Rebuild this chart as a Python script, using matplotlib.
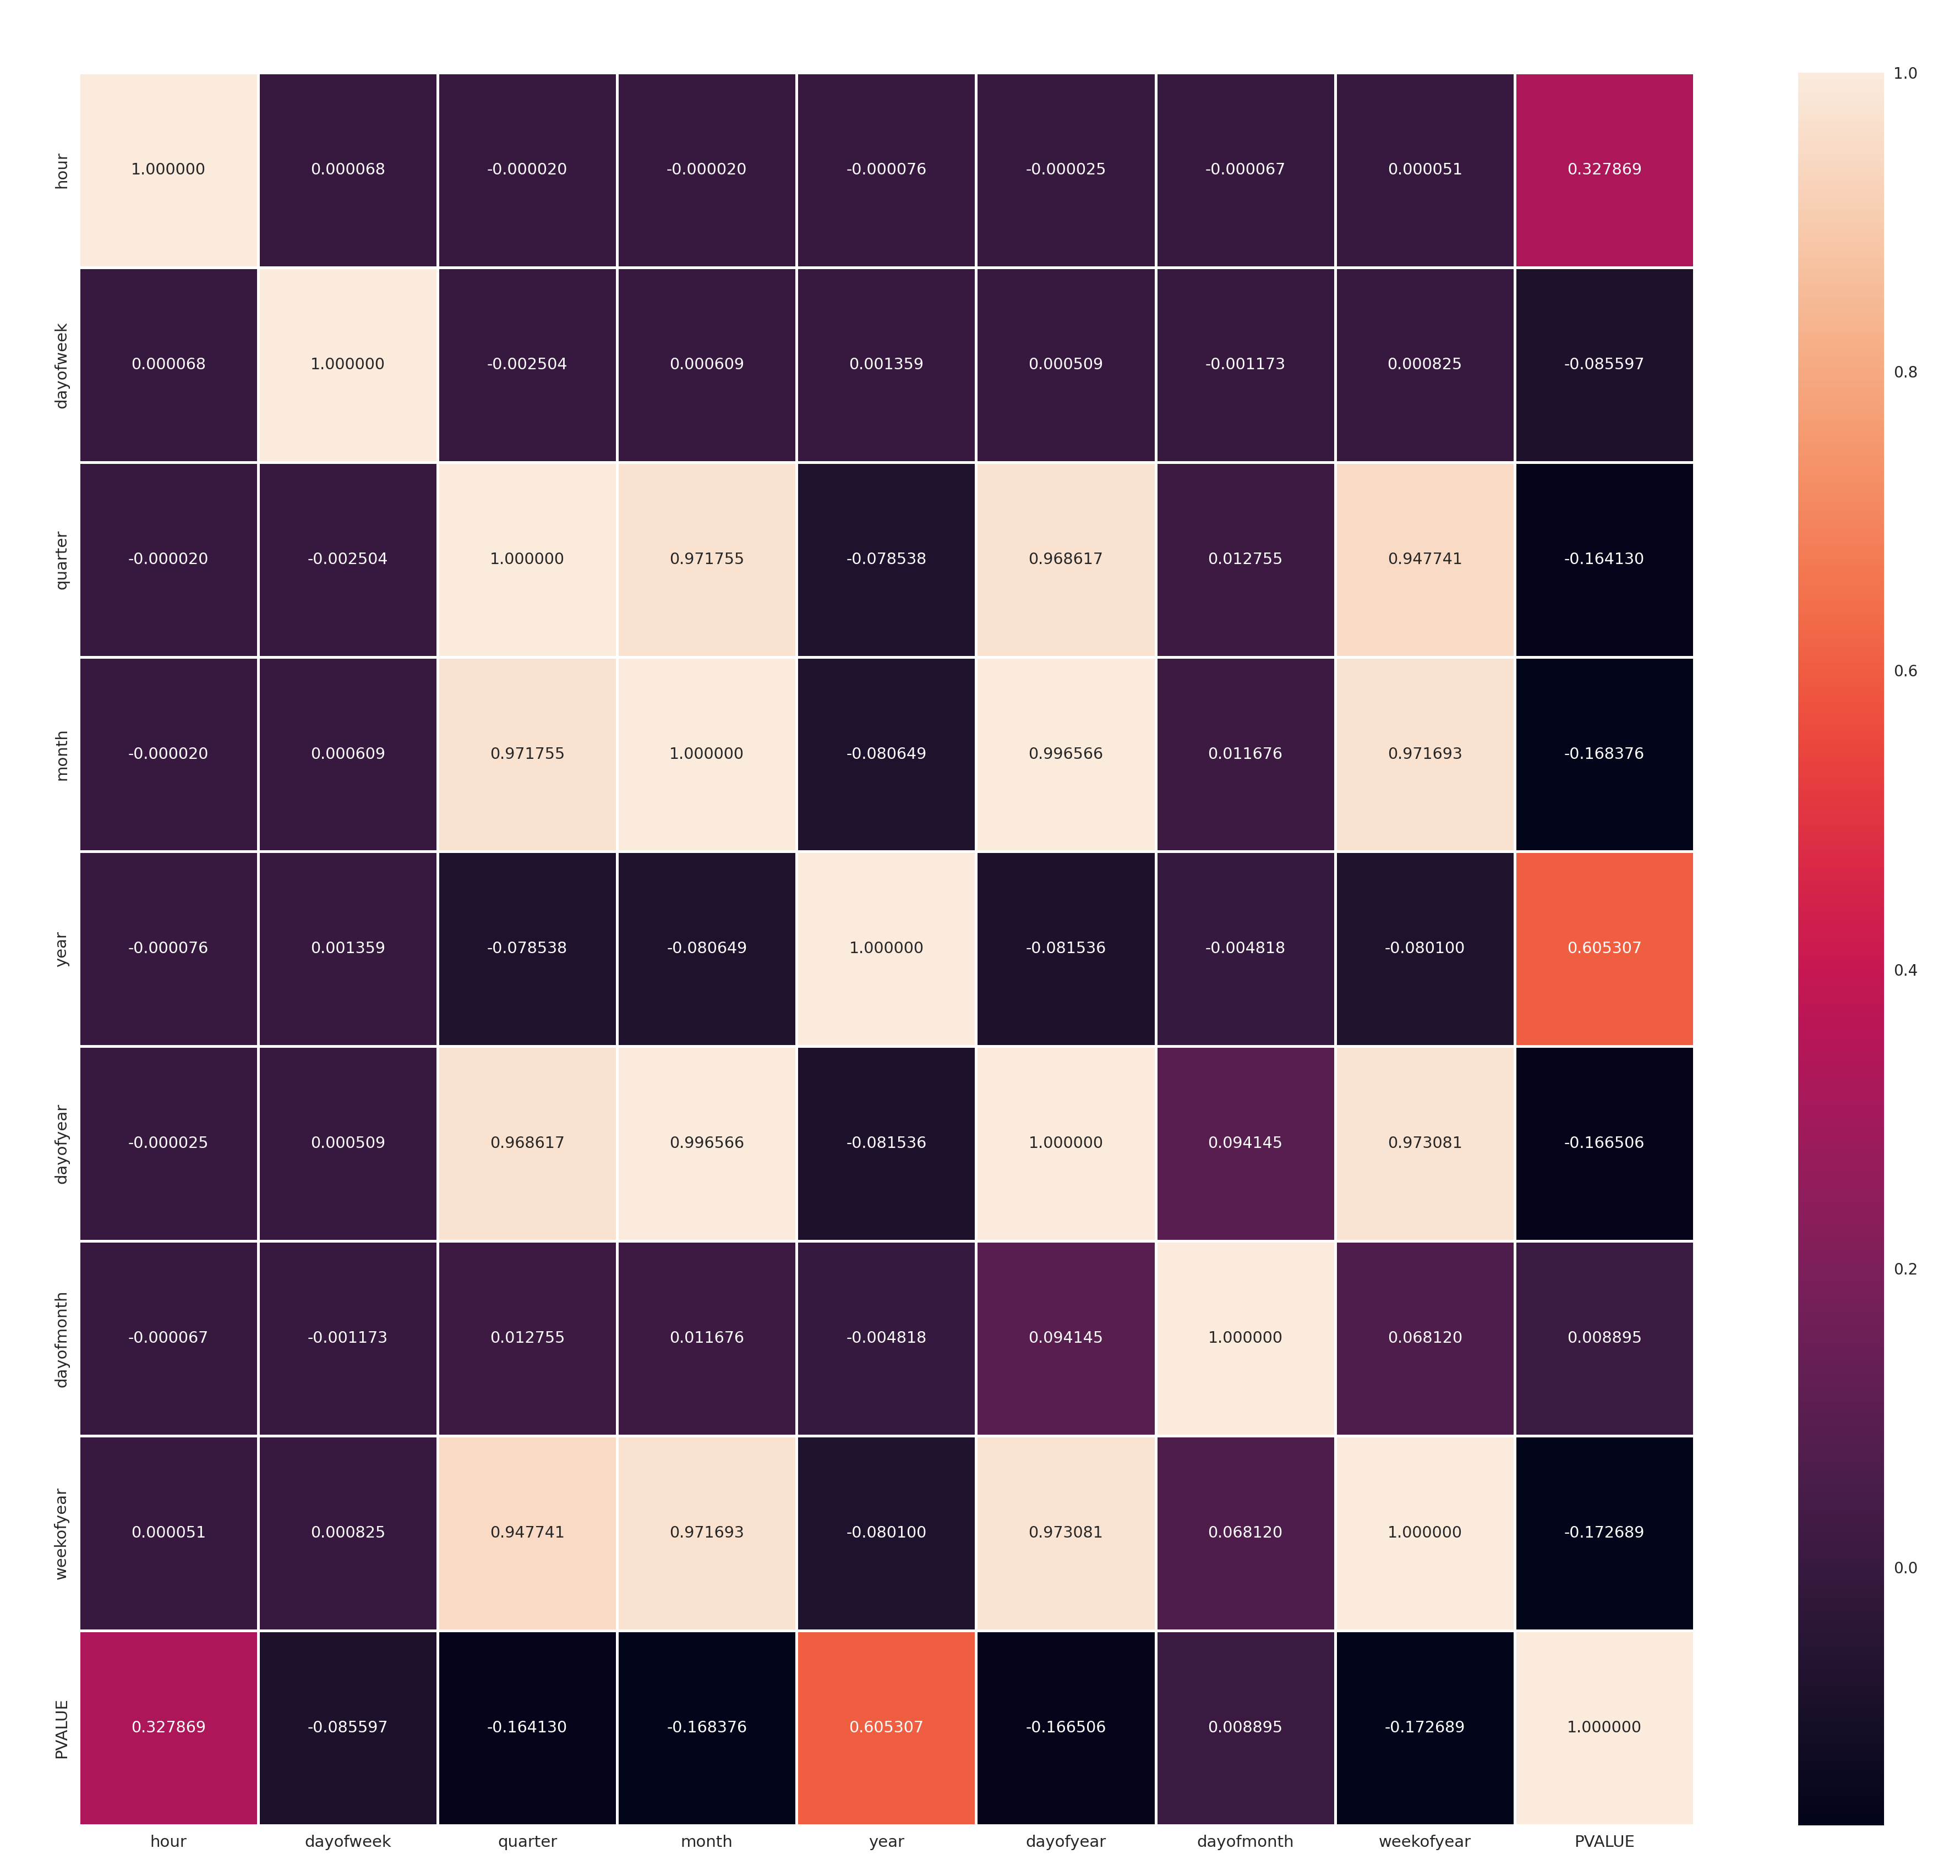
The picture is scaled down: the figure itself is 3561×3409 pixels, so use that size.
import numpy as np
import pandas as pd
import matplotlib
matplotlib.use("Agg")
import matplotlib.pyplot as plt
import seaborn as sns

labels = ["hour", "dayofweek", "quarter", "month", "year",
          "dayofyear", "dayofmonth", "weekofyear", "PVALUE"]

row_hour = [1.000000, 0.000068, -0.000020, -0.000020, -0.000076, -0.000025, -0.000067, 0.000051, 0.327869]
row_dayofweek = [0.000068, 1.000000, -0.002504, 0.000609, 0.001359, 0.000509, -0.001173, 0.000825, -0.085597]
row_quarter = [-0.000020, -0.002504, 1.000000, 0.971755, -0.078538, 0.968617, 0.012755, 0.947741, -0.164130]
row_month = [-0.000020, 0.000609, 0.971755, 1.000000, -0.080649, 0.996566, 0.011676, 0.971693, -0.168376]
row_year = [-0.000076, 0.001359, -0.078538, -0.080649, 1.000000, -0.081536, -0.004818, -0.080100, 0.605307]
row_dayofyear = [-0.000025, 0.000509, 0.968617, 0.996566, -0.081536, 1.000000, 0.094145, 0.973081, -0.166506]
row_dayofmonth = [-0.000067, -0.001173, 0.012755, 0.011676, -0.004818, 0.094145, 1.000000, 0.068120, 0.008895]
row_weekofyear = [0.000051, 0.000825, 0.947741, 0.971693, -0.080100, 0.973081, 0.068120, 1.000000, -0.172689]
row_pvalue = [0.327869, -0.085597, -0.164130, -0.168376, 0.605307, -0.166506, 0.008895, -0.172689, 1.000000]

corr = pd.DataFrame([row_hour, row_dayofweek, row_quarter, row_month, row_year,
                     row_dayofyear, row_dayofmonth, row_weekofyear, row_pvalue],
                    index=labels, columns=labels)

sns.set_style("darkgrid")
plt.rcParams['font.family'] = ['DejaVu Sans']

fig = plt.figure(figsize=(35.62, 34.09), dpi=100)
ax = fig.add_axes([0.0401, 0.0270, 0.8240, 0.9343])
cax = fig.add_axes([0.9172, 0.0270, 0.0438, 0.9343])

sns.heatmap(corr, ax=ax, cbar_ax=cax, annot=True, fmt="f", linewidths=3.5,
            linecolor="white", annot_kws={"fontsize": 20.5})

ax.set_xticklabels(labels, fontsize=21, rotation=0)
ax.set_yticklabels(labels, fontsize=21, rotation=90, va="center")
ax.tick_params(axis="both", length=0, pad=12)
cax.tick_params(labelsize=20, length=0, pad=12)
cax.set_yticks([0.0, 0.2, 0.4, 0.6, 0.8, 1.0])

fig.savefig("out.png", dpi=100)
